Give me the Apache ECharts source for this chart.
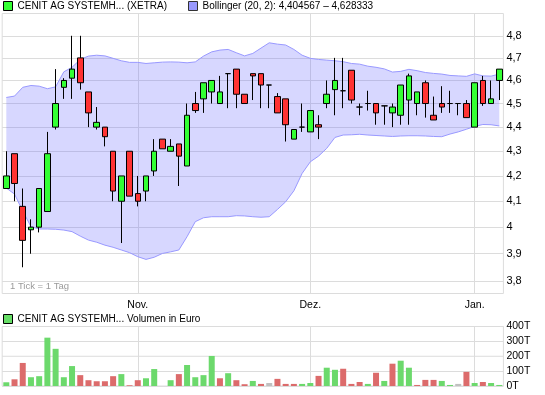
<!DOCTYPE html>
<html>
<head>
<meta charset="utf-8">
<script src="https://cdn.jsdelivr.net/npm/echarts@6/dist/echarts.min.js"></script>
<style>
html,body{margin:0;padding:0;background:#fff;}
#c{width:545px;height:395px;}
</style>
</head>
<body>
<div id="c"></div>
<script>
// ---- data ----
const categories = [
 '09.10.2009','12.10.2009','13.10.2009','14.10.2009','15.10.2009','16.10.2009','19.10.2009','20.10.2009','21.10.2009','22.10.2009',
 '23.10.2009','26.10.2009','27.10.2009','28.10.2009','29.10.2009','30.10.2009',
 '02.11.2009','03.11.2009','04.11.2009','05.11.2009','06.11.2009','09.11.2009','10.11.2009','11.11.2009','12.11.2009','13.11.2009',
 '16.11.2009','17.11.2009','18.11.2009','19.11.2009','20.11.2009','23.11.2009','24.11.2009','25.11.2009','26.11.2009','27.11.2009','30.11.2009',
 '01.12.2009','02.12.2009','03.12.2009','04.12.2009','07.12.2009','08.12.2009','09.12.2009','10.12.2009','11.12.2009',
 '14.12.2009','15.12.2009','16.12.2009','17.12.2009','18.12.2009','21.12.2009','22.12.2009','23.12.2009','28.12.2009','29.12.2009','30.12.2009',
 '04.01.2010','05.01.2010','06.01.2010','07.01.2010'
];
const monthLabels = ['Jan.','Feb.','März','Apr.','Mai','Juni','Juli','Aug.','Sep.','Okt.','Nov.','Dez.'];

const openP  = [4.15,4.29,4.08,3.99,4.00,4.06,4.40,4.57,4.61,4.70, 4.55,4.40,4.40,4.30,4.10,4.30,4.13,4.14,4.22,4.35,
                4.30,4.33,4.24,4.50,4.52,4.55,4.50,4.63,4.65,4.54, 4.63,4.63,4.58,4.53,4.52,4.35,4.40,4.38,4.41,4.50,
                4.56,4.555,4.645,4.485,4.50,4.50,4.49,4.46,4.45,4.515, 4.50,4.59,4.45,4.50,4.50,4.50,4.50,4.40,4.60,4.50, 4.60];
const closeP = [4.20,4.17,3.95,4.00,4.15,4.29,4.50,4.60,4.65,4.59, 4.46,4.42,4.36,4.14,4.20,4.12,4.10,4.20,4.30,4.31,
                4.32,4.28,4.45,4.47,4.59,4.60,4.55,4.63,4.54,4.50, 4.62,4.58,4.58,4.46,4.41,4.39,4.40,4.47,4.40,4.54,
                4.60,4.555,4.515,4.485,4.50,4.46,4.49,4.485,4.58,4.62, 4.55,4.50,4.43,4.485,4.50,4.50,4.44,4.59,4.50,4.52, 4.65];
const lowP   = [4.15,4.10,3.85,3.90,3.98,4.06,4.39,4.52,4.52,4.56, 4.40,4.39,4.32,4.10,3.94,4.12,4.08,4.10,4.20,4.31,
                4.30,4.16,4.24,4.46,4.46,4.50,4.50,4.48,4.48,4.50, 4.515,4.48,4.48,4.46,4.34,4.35,4.38,4.38,4.35,4.48,
                4.45,4.48,4.50,4.45,4.47,4.41,4.41,4.40,4.41,4.41, 4.45,4.44,4.43,4.46,4.46,4.45,4.44,4.40,4.49,4.50, 4.515];
const highP  = [4.30,4.29,4.15,4.03,4.15,4.38,4.65,4.61,4.80,4.80, 4.55,4.485,4.40,4.30,4.20,4.30,4.20,4.20,4.35,4.35,
                4.35,4.33,4.50,4.55,4.59,4.60,4.62,4.63,4.65,4.54, 4.63,4.63,4.58,4.545,4.52,4.39,4.50,4.47,4.45,4.60,
                4.70,4.70,4.645,4.50,4.555,4.50,4.49,4.50,4.58,4.63, 4.55,4.60,4.53,4.575,4.555,4.50,4.515,4.59,4.62,4.60, 4.65];

const bollUpper = [4.526,4.532,4.570,4.578,4.575,4.564,4.572,4.638,4.658,4.693,
                   4.708,4.712,4.709,4.698,4.687,4.680,4.680,4.675,4.678,4.681,
                   4.682,4.681,4.678,4.682,4.708,4.727,4.735,4.738,4.723,4.709,
                   4.720,4.744,4.768,4.762,4.758,4.738,4.712,4.698,4.693,4.690,
                   4.687,4.683,4.675,4.672,4.663,4.658,4.651,4.637,4.640,4.649,
                   4.643,4.635,4.631,4.628,4.622,4.620,4.618,4.629,4.620,4.619, 4.628];
const bollLower = [4.152,4.128,4.062,4.002,3.993,3.993,3.992,3.989,3.983,3.966,
                   3.951,3.943,3.932,3.924,3.914,3.904,3.889,3.879,3.887,3.901,
                   3.907,3.914,3.964,4.021,4.036,4.040,4.040,4.040,4.044,4.043,
                   4.040,4.038,4.040,4.068,4.098,4.141,4.210,4.257,4.280,4.312,
                   4.357,4.367,4.368,4.370,4.367,4.365,4.363,4.361,4.363,4.364,
                   4.364,4.363,4.361,4.360,4.371,4.380,4.391,4.403,4.411,4.410, 4.405];

// volume in thousand euro (T)
const volumeT = [25,45,155,59,66,325,250,59,134,73, 39,32,32,66,80,5,39,52,114,0,
                 39,80,141,59,73,202,52,86,39,12, 34,14,20,48,14,14,14,20,68,123,
                 109,116,14,27,14,89,34,150,170,123, 7,41,41,34,7,14,95,20,27,20, 7];

const priceTicks = [3.8,3.9,4.0,4.1,4.2,4.3,4.4,4.5,4.6,4.7,4.8];
const volTickLabels = ['0T','100T','200T','300T','400T'];

const candleName = 'CENIT AG SYSTEMH... (XETRA)';
const bollName = 'Bollinger (20, 2): 4,404567 \u2013 4,628333';
const volName = 'CENIT AG SYSTEMH... Volumen in Euro';

// ---- build ----
const FONT = '"Liberation Sans", Arial, sans-serif';
const GRID_C = '#dcdcdc';
const candleData = categories.map((c, i) => [openP[i], closeP[i], lowP[i], highP[i]]);
const volData = volumeT.map((v, i) => {
  let col = '#6cd96c';
  if (i > 0) {
    if (closeP[i] < closeP[i-1]) col = '#dc6b6b';
    else if (closeP[i] === closeP[i-1]) col = '#c0c0c0';
  }
  return { value: v, itemStyle: { color: col } };
});
function isMonthStart(idx) {
  if (idx === 0) return false;
  return categories[idx].slice(3,5) !== categories[idx-1].slice(3,5);
}
const GL = 2.2, GW = 501.2;

const chart = echarts.init(document.getElementById('c'), null, {renderer: 'canvas'});
chart.setOption({
  animation: false,
  backgroundColor: '#fff',
  textStyle: { fontFamily: FONT },
  legend: [
    { left: 3, top: 1, padding: 0, itemWidth: 9, itemHeight: 9, icon: 'rect', selectedMode: false,
      textStyle: { fontSize: 10, color: '#000', fontFamily: FONT },
      data: [{ name: candleName, itemStyle: { color: '#33ff33', borderColor: '#000', borderWidth: 1 } }] },
    { left: 188, top: 1, padding: 0, itemWidth: 9, itemHeight: 9, icon: 'rect', selectedMode: false,
      textStyle: { fontSize: 10, color: '#000', fontFamily: FONT },
      data: [{ name: bollName, itemStyle: { color: '#9999ff', borderColor: '#333', borderWidth: 1 } }] },
    { left: 3, top: 314, padding: 0, itemWidth: 9, itemHeight: 9, icon: 'rect', selectedMode: false,
      textStyle: { fontSize: 10, color: '#000', fontFamily: FONT },
      data: [{ name: volName, itemStyle: { color: '#66dd66', borderColor: '#000', borderWidth: 1 } }] }
  ],
  grid: [
    { left: GL, top: 13.5, width: GW, height: 280, show: true, borderColor: GRID_C, borderWidth: 1, backgroundColor: 'transparent' },
    { left: GL, top: 326.5, width: GW, height: 59.5, show: true, borderColor: GRID_C, borderWidth: 1, backgroundColor: 'transparent' }
  ],
  xAxis: [
    { type: 'category', gridIndex: 0, data: categories, boundaryGap: true,
      axisLine: { show: false },
      axisTick: { show: true, alignWithLabel: true, inside: true, length: 280, interval: (i) => isMonthStart(i), lineStyle: { color: GRID_C } },
      axisLabel: { show: true, interval: (i) => isMonthStart(i), margin: 6, fontSize: 10.5, color: '#000', fontFamily: FONT,
        formatter: (v) => monthLabels[parseInt(v.slice(3,5), 10) - 1] },
      splitLine: { show: false } },
    { type: 'category', gridIndex: 1, data: categories, boundaryGap: true,
      axisLine: { show: false },
      axisTick: { show: true, alignWithLabel: true, inside: true, length: 59.5, interval: (i) => isMonthStart(i), lineStyle: { color: GRID_C } },
      axisLabel: { show: false },
      splitLine: { show: false } }
  ],
  yAxis: [
    { type: 'log', logBase: 10, gridIndex: 0, position: 'right', min: 3.755, max: 4.903,
      axisLine: { show: false },
      axisTick: { show: true, inside: true, length: GW, customValues: priceTicks, lineStyle: { color: GRID_C } },
      axisLabel: { show: true, customValues: priceTicks, margin: 3, fontSize: 11, color: '#000', fontFamily: FONT,
        formatter: (v) => String(Math.round(v * 10) / 10).replace('.', ',') },
      splitLine: { show: false } },
    { type: 'value', gridIndex: 1, position: 'right', min: 0, max: 400, interval: 100,
      axisLine: { show: false },
      axisTick: { show: true, inside: true, length: GW, lineStyle: { color: GRID_C } },
      axisLabel: { show: true, margin: 3, fontSize: 10.5, color: '#000', fontFamily: FONT,
        formatter: (v) => volTickLabels[Math.round(v / 100)] },
      splitLine: { show: false } }
  ],
  graphic: [
    { type: 'text', left: 10, top: 281, silent: true,
      style: { text: '1 Tick = 1 Tag', fill: '#9a9a9a', font: '9.5px "Liberation Sans", Arial, sans-serif' } }
  ],
  series: [
    { name: bollName, type: 'custom', xAxisIndex: 0, yAxisIndex: 0, z: 1,
      itemStyle: { color: '#9999ff' },
      data: [[0, bollUpper[0]]],
      encode: { x: 0, y: 1 },
      renderItem: function (params, api) {
        const pts = [];
        for (let i = 0; i < bollUpper.length; i++) pts.push(api.coord([i, bollUpper[i]]));
        for (let i = bollLower.length - 1; i >= 0; i--) pts.push(api.coord([i, bollLower[i]]));
        return { type: 'polygon', shape: { points: pts }, style: { fill: 'rgba(100,100,255,0.26)', stroke: null } };
      } },
    { name: 'BB oben', type: 'line', xAxisIndex: 0, yAxisIndex: 0, z: 2, data: bollUpper, showSymbol: false, symbol: 'none',
      lineStyle: { color: '#9999ff', width: 1 }, silent: true },
    { name: 'BB unten', type: 'line', xAxisIndex: 0, yAxisIndex: 0, z: 2, data: bollLower, showSymbol: false, symbol: 'none',
      lineStyle: { color: '#9999ff', width: 1 }, silent: true },
    { name: candleName, type: 'candlestick', xAxisIndex: 0, yAxisIndex: 0, z: 3, data: candleData, barWidth: 6,
      itemStyle: { color: '#33ff33', color0: '#ff3333', borderColor: '#000', borderColor0: '#000', borderColorDoji: '#000', borderWidth: 1 } },
    { name: volName, type: 'bar', xAxisIndex: 1, yAxisIndex: 1, data: volData, barWidth: 6,
      itemStyle: { color: '#66dd66' } }
  ]
});
</script>
</body>
</html>
